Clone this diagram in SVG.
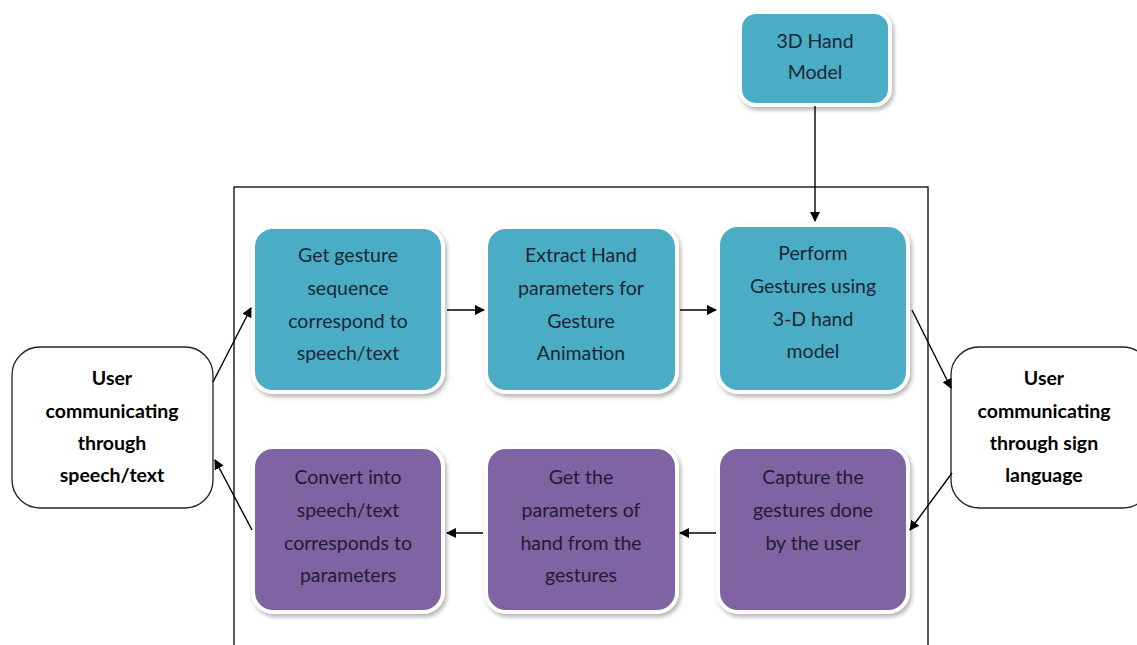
<svg xmlns="http://www.w3.org/2000/svg" width="1137" height="645" viewBox="0 0 1137 645">
<defs>
<filter id="sh" x="-10%" y="-10%" width="125%" height="125%">
<feDropShadow dx="2" dy="3" stdDeviation="2" flood-color="#777" flood-opacity="0.55"/>
</filter>
<marker id="ah" viewBox="0 0 10 10" refX="9" refY="5" markerWidth="10" markerHeight="10" markerUnits="userSpaceOnUse" orient="auto">
<path d="M0,0 L10,5 L0,10 z" fill="#000"/>
</marker>
</defs>
<style>
.t{fill:#4BACC6;stroke:#fff;stroke-width:4;filter:url(#sh)}
.p{fill:#8064A2;stroke:#fff;stroke-width:4;filter:url(#sh)}
.u{fill:#fff;stroke:#222;stroke-width:1.3}
text{font-family:Lato,"Open Sans","Liberation Sans",sans-serif;font-size:19.5px;text-anchor:middle}
.bt{fill:#1b2733}
.bp{fill:#231a33}
.ut{fill:#000;font-weight:bold}
.c{stroke:#000;stroke-width:1.4;fill:none;marker-end:url(#ah)}
</style>
<rect x="234" y="187" width="694" height="470" fill="none" stroke="#000" stroke-width="1.3"/>
<g id="n3d">
<rect class="t" x="740" y="12" width="150" height="93" rx="16"/>
<text class="bt" x="815" y="48">3D Hand</text>
<text class="bt" x="815" y="79">Model</text>
</g>
<g id="n1">
<rect class="t" x="253" y="227" width="190" height="165" rx="20"/>
<text class="bt" x="348" y="262">Get gesture</text>
<text class="bt" x="348" y="295">sequence</text>
<text class="bt" x="348" y="328">correspond to</text>
<text class="bt" x="348" y="360">speech/text</text>
</g>
<g id="n2">
<rect class="t" x="486" y="227" width="191" height="165" rx="20"/>
<text class="bt" x="581" y="262">Extract Hand</text>
<text class="bt" x="581" y="295">parameters for</text>
<text class="bt" x="581" y="328">Gesture</text>
<text class="bt" x="581" y="360">Animation</text>
</g>
<g id="n3">
<rect class="t" x="718" y="225" width="190" height="167" rx="20"/>
<text class="bt" x="813" y="260">Perform</text>
<text class="bt" x="813" y="293">Gestures using</text>
<text class="bt" x="813" y="326">3-D hand</text>
<text class="bt" x="813" y="358">model</text>
</g>
<g id="n4">
<rect class="p" x="253" y="447" width="190" height="165" rx="20"/>
<text class="bp" x="348" y="484">Convert into</text>
<text class="bp" x="348" y="517">speech/text</text>
<text class="bp" x="348" y="550">corresponds to</text>
<text class="bp" x="348" y="582">parameters</text>
</g>
<g id="n5">
<rect class="p" x="486" y="447" width="191" height="165" rx="20"/>
<text class="bp" x="581" y="484">Get the</text>
<text class="bp" x="581" y="517">parameters of</text>
<text class="bp" x="581" y="550">hand from the</text>
<text class="bp" x="581" y="582">gestures</text>
</g>
<g id="n6">
<rect class="p" x="718" y="447" width="190" height="165" rx="20"/>
<text class="bp" x="813" y="484">Capture the</text>
<text class="bp" x="813" y="517">gestures done</text>
<text class="bp" x="813" y="550">by the user</text>
</g>
<g id="uL">
<rect class="u" x="12" y="347" width="201" height="161" rx="28"/>
<text class="ut" x="112" y="385">User</text>
<text class="ut" x="112" y="418">communicating</text>
<text class="ut" x="112" y="450">through</text>
<text class="ut" x="112" y="482">speech/text</text>
</g>
<g id="uR">
<rect class="u" x="951" y="347" width="200" height="161" rx="28"/>
<text class="ut" x="1044" y="385">User</text>
<text class="ut" x="1044" y="418">communicating</text>
<text class="ut" x="1044" y="450">through sign</text>
<text class="ut" x="1044" y="482">language</text>
</g>
<g id="connectors">
<line class="c" x1="815" y1="106" x2="815" y2="221"/>
<line class="c" x1="447" y1="310" x2="484" y2="310"/>
<line class="c" x1="680" y1="310" x2="716" y2="310"/>
<line class="c" x1="716" y1="533" x2="680" y2="533"/>
<line class="c" x1="483" y1="533" x2="447" y2="533"/>
<line class="c" x1="213" y1="382" x2="251" y2="308"/>
<line class="c" x1="252" y1="530" x2="215" y2="460"/>
<line class="c" x1="912" y1="310" x2="951" y2="388"/>
<line class="c" x1="952" y1="473" x2="910" y2="530"/>
</g>
</svg>
